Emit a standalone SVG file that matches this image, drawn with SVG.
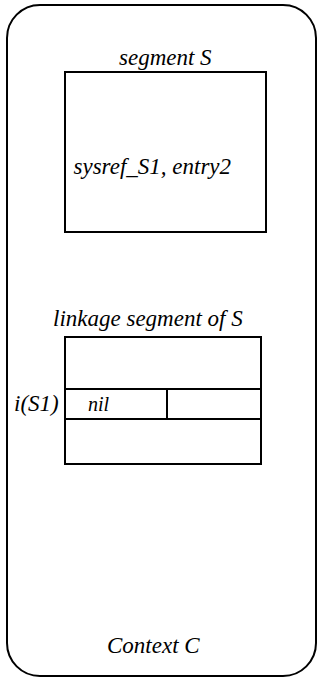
<svg xmlns="http://www.w3.org/2000/svg" width="320" height="679" viewBox="0 0 320 679" font-family="Liberation Serif" font-style="italic" font-size="23">
  <style>
    .frame { fill: #fff; stroke: #000; stroke-width: 2; }
    .box { fill: none; stroke: #000; stroke-width: 2; }
  </style>
  <rect width="320" height="679" fill="#fff"/>
  <!-- outer context frame -->
  <g id="context-c">
    <rect class="frame" x="7" y="5" width="309" height="671" rx="33" ry="33"/>
    <text x="107" y="653">Context C</text>
  </g>
  <!-- segment S -->
  <g id="segment-s">
    <text x="119" y="65">segment S</text>
    <rect class="box" x="65" y="72" width="201" height="160"/>
    <text x="73.5" y="174">sysref_S1, entry2</text>
  </g>
  <!-- linkage segment with the i(S1) row -->
  <g id="linkage-segment">
    <text x="53" y="326">linkage segment of S</text>
    <rect class="box" x="65" y="337" width="196" height="127"/>
    <rect class="box" x="65" y="389" width="196" height="30"/>
    <line class="box" x1="167" y1="389" x2="167" y2="419"/>
    <text x="88" y="411" font-size="20">nil</text>
    <text x="14" y="411">i(S1)</text>
  </g>
</svg>
